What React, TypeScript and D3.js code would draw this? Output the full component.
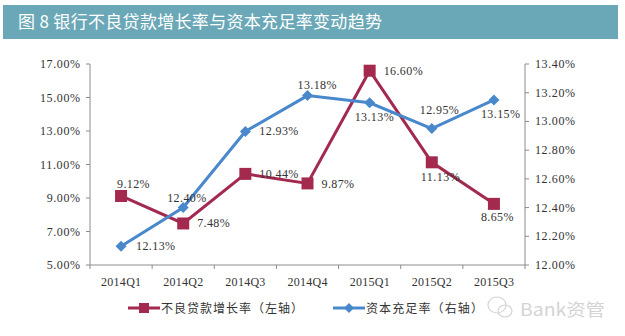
import React from "react";
import * as d3 from "d3";

const categories = ["2014Q1", "2014Q2", "2014Q3", "2014Q4", "2015Q1", "2015Q2", "2015Q3"];
const nplGrowth = [9.12, 7.48, 10.44, 9.87, 16.6, 11.13, 8.65];
const carRatio = [12.13, 12.4, 12.93, 13.18, 13.13, 12.95, 13.15];
const leftTicks = [5, 7, 9, 11, 13, 15, 17];
const rightTicks = [12.0, 12.2, 12.4, 12.6, 12.8, 13.0, 13.2, 13.4];
// label offsets (left edge dx, vertical centre dy) relative to the marker
const nplLabelPos: [number, number][] = [
  [-4, -12], [14, 0], [14, 0], [14, 1], [14, 0], [-11, 15], [-13, 13],
];
const carLabelPos: [number, number][] = [
  [15, 0], [-16, -10], [14, 0], [-10, -11], [-15, 14], [-12, -19], [-13, 14],
];

const RED = "#a3294f";
const BLUE = "#4a88cc";
const FONT = "'Liberation Serif', 'DejaVu Serif', serif";
const CJK = "'Noto Sans CJK SC', sans-serif";

export default function App() {
  const W = 625, H = 336;
  const x0 = 90, x1 = 525, yTop = 64, yBot = 265;
  const x = d3.scaleBand().domain(categories).range([x0, x1]);
  const yL = d3.scaleLinear().domain([5, 17]).range([yBot, yTop]);
  const yR = d3.scaleLinear().domain([12, 13.4]).range([yBot, yTop]);
  const cx = (c: string) => (x(c) as number) + x.bandwidth() / 2;

  const lineL = d3.line<number>().x((_, i) => cx(categories[i])).y((d) => yL(d));
  const lineR = d3.line<number>().x((_, i) => cx(categories[i])).y((d) => yR(d));
  const axisColor = "#8c8c8c";
  const textColor = "#333";

  return (
    <svg width={W} height={H} style={{ position: "absolute", left: 0, top: 0, background: "#fff" }}>
      <rect x={0} y={0} width={W} height={H} fill="#fff" />
      <rect x={3} y={5} width={615} height={34} fill="#6aa7b7" />
      <text x={18} y={28} fill="#fff" fontFamily={CJK} fontSize={17} textLength={364} lengthAdjust="spacing">
        图 8  银行不良贷款增长率与资本充足率变动趋势
      </text>

      {/* axes */}
      <line x1={x0} x2={x0} y1={yTop} y2={yBot} stroke={axisColor} />
      <line x1={x1} x2={x1} y1={yTop} y2={yBot} stroke={axisColor} />
      <line x1={x0} x2={x1} y1={yBot} y2={yBot} stroke={axisColor} />
      {leftTicks.map((t) => {
        const s = t.toFixed(2) + "%";
        const len = s.length * 6.67;
        return (
          <g key={"l" + t}>
            <line x1={x0 - 4} x2={x0} y1={yL(t)} y2={yL(t)} stroke={axisColor} />
            <text x={80 - len} y={yL(t) + 4} fontFamily={FONT} fontSize={12} textLength={len} lengthAdjust="spacing" fill={textColor}>
              {s}
            </text>
          </g>
        );
      })}
      {rightTicks.map((t) => (
        <g key={"r" + t}>
          <line x1={x1} x2={x1 + 4} y1={yR(t)} y2={yR(t)} stroke={axisColor} />
          <text x={535} y={yR(t) + 4} fontFamily={FONT} fontSize={12} textLength={40} lengthAdjust="spacing" fill={textColor}>
            {t.toFixed(2) + "%"}
          </text>
        </g>
      ))}
      {categories.map((c, i) => (
        <g key={c}>
          <line x1={(x(c) as number)} x2={(x(c) as number)} y1={yBot} y2={yBot + 4} stroke={axisColor} />
          {i === categories.length - 1 && (
            <line x1={x1} x2={x1} y1={yBot} y2={yBot + 4} stroke={axisColor} />
          )}
          <text x={cx(c) - 20} y={yBot + 21} fontFamily={FONT} fontSize={12} textLength={40} lengthAdjust="spacing" fill={textColor}>
            {c}
          </text>
        </g>
      ))}

      {/* lines */}
      <path d={lineL(nplGrowth) as string} fill="none" stroke={RED} strokeWidth={3} />
      <path d={lineR(carRatio) as string} fill="none" stroke={BLUE} strokeWidth={3} />
      {nplGrowth.map((v, i) => (
        <rect key={"m" + i} x={cx(categories[i]) - 6} y={yL(v) - 6} width={12} height={12} fill={RED} />
      ))}
      {carRatio.map((v, i) => {
        const px = cx(categories[i]), py = yR(v);
        return <path key={"d" + i} d={`M${px},${py - 5.5}L${px + 5.5},${py}L${px},${py + 5.5}L${px - 5.5},${py}Z`} fill={BLUE} />;
      })}

      {/* labels */}
      {nplGrowth.map((v, i) => {
        const s = v.toFixed(2) + "%";
        return (
          <text key={"nl" + i} x={cx(categories[i]) + nplLabelPos[i][0]} y={yL(v) + nplLabelPos[i][1] + 4}
            fontFamily={FONT} fontSize={12} textLength={s.length * 6.5} lengthAdjust="spacing" fill={textColor}>
            {s}
          </text>
        );
      })}
      {carRatio.map((v, i) => {
        const s = v.toFixed(2) + "%";
        return (
          <text key={"cl" + i} x={cx(categories[i]) + carLabelPos[i][0]} y={yR(v) + carLabelPos[i][1] + 4}
            fontFamily={FONT} fontSize={12} textLength={s.length * 6.5} lengthAdjust="spacing" fill={textColor}>
            {s}
          </text>
        );
      })}

      {/* legend */}
      <line x1={128} x2={160} y1={308} y2={308} stroke={RED} strokeWidth={3} />
      <rect x={139} y={303} width={10} height={10} fill={RED} />
      <text x={161} y={313} fontFamily={CJK} fontSize={12} textLength={142} lengthAdjust="spacing" fill={textColor}>
        不良贷款增长率（左轴）
      </text>
      <line x1={333} x2={365} y1={308} y2={308} stroke={BLUE} strokeWidth={3} />
      <path d="M349,303L354,308L349,313L344,308Z" fill={BLUE} />
      <text x={366} y={313} fontFamily={CJK} fontSize={12} textLength={117} lengthAdjust="spacing" fill={textColor}>
        资本充足率（右轴）
      </text>

      {/* watermark */}
      <g opacity={0.5}>
        <ellipse cx={497} cy={305} rx={9} ry={8} fill="none" stroke="#aaa" strokeWidth={1.2} />
        <ellipse cx={505} cy={311} rx={7} ry={6} fill="none" stroke="#aaa" strokeWidth={1.2} />
        <text x={520} y={316} fontFamily={CJK} fontSize={17} fill="#aaa" textLength={85} lengthAdjust="spacingAndGlyphs">Bank资管</text>
      </g>
    </svg>
  );
}
